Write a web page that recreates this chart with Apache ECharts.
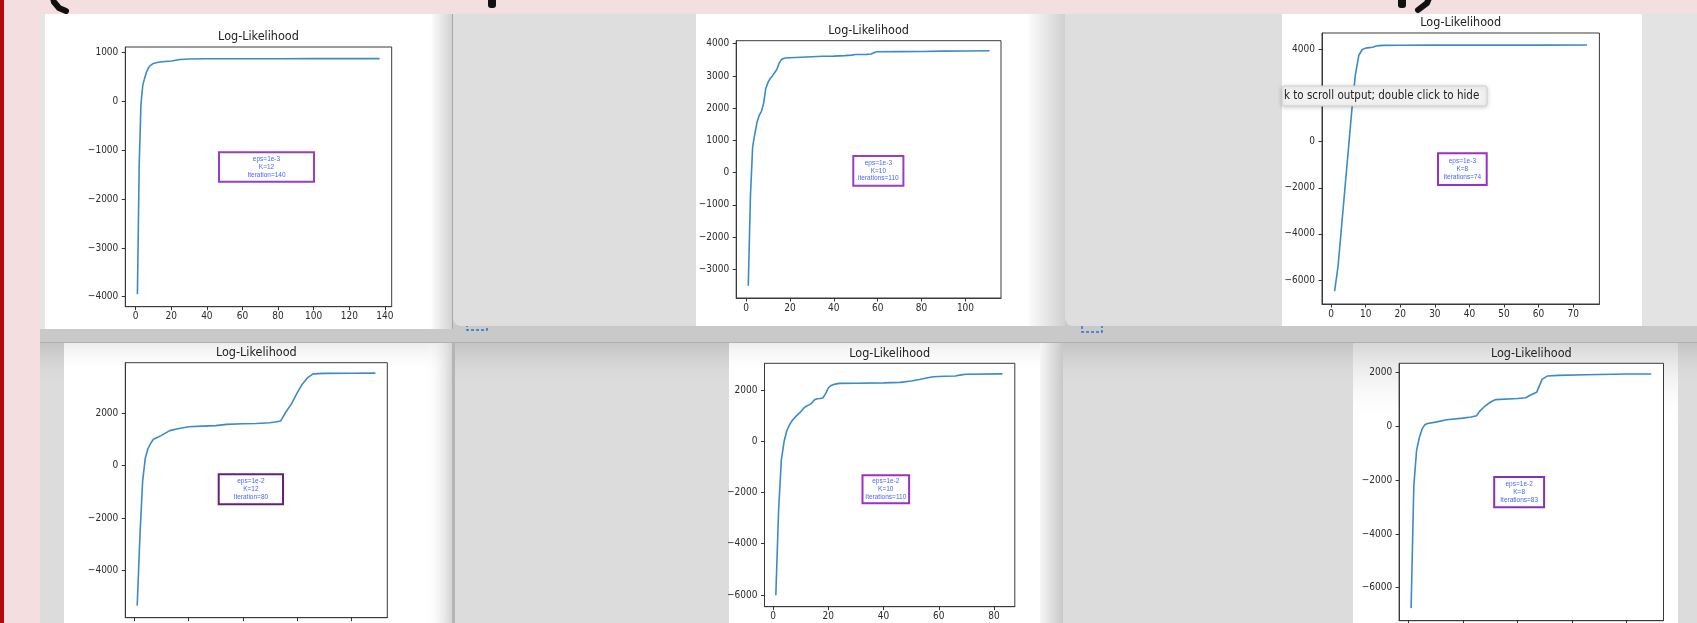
<!DOCTYPE html>
<html>
<head>
<meta charset="utf-8">
<script src="https://cdn.jsdelivr.net/npm/echarts@6/dist/echarts.min.js"></script>
<style>
html,body{margin:0;padding:0;background:#c9c9c9;}
#chart{width:1697px;height:623px;}
</style>
</head>
<body>
<div id="chart"></div>
<script>
// ---------- data ----------
const ITER1 = [1,2,3,4,5,6,7,8,9,10,12,15,20,25,30,40,60,80,100,120,137];
const LL1   = [-3950,-1300,-50,330,470,590,680,730,760,780,800,815,830,860,872,875,876,877,878,879,879];

const ITER2 = [1,2,3,4,5,6,7,8,9,10,11,12,13,14,15,16,17,18,20,25,30,35,40,45,48,50,55,57,59,60,70,80,90,100,111];
const LL2   = [-3510,-700,800,1200,1560,1780,1900,2150,2620,2800,2920,3000,3100,3200,3380,3500,3540,3555,3565,3580,3595,3610,3615,3630,3645,3665,3668,3680,3740,3750,3755,3760,3770,3775,3780];

const ITER3 = [1,2,3,4,5,6,7,8,9,10,11,12,13,14,15,20,30,40,50,60,74];
const LL3   = [-6480,-5400,-3700,-2000,-300,1400,2900,3750,4000,4060,4080,4100,4150,4170,4180,4185,4188,4190,4190,4192,4195];

const ITER4 = [1,2,3,4,5,6,7,8,10,13,16,20,25,30,34,40,45,50,52,54,56,58,60,62,64,66,70,80,89];
const LL4   = [-5330,-2700,-600,290,650,850,1000,1050,1150,1330,1400,1480,1500,1520,1570,1590,1600,1630,1660,1700,2050,2350,2750,3100,3350,3490,3510,3515,3520];

const ITER5 = [1,2,3,4,5,6,7,8,9,10,11,12,13,14,15,16,17,18,19,20,21,22,24,30,40,46,50,53,56,58,62,66,68,70,83];
const LL5   = [-6010,-2700,-730,0,420,650,820,940,1050,1150,1280,1370,1420,1490,1620,1660,1670,1690,1850,2080,2180,2220,2260,2265,2280,2300,2350,2410,2480,2520,2535,2550,2590,2615,2630];

const ITER6 = [1,2,3,4,5,6,7,10,14,20,23,25,26,28,30,32,40,43,45,47,49,51,55,65,80,89];
const LL6   = [-6760,-2200,-900,-420,-100,60,110,160,250,310,350,400,550,750,900,1000,1040,1070,1180,1270,1750,1880,1900,1925,1950,1950];

const XT1 = [0,20,40,60,80,100,120,140];
const YT1 = [-4000,-3000,-2000,-1000,0,1000];
const XT2 = [0,20,40,60,80,100];
const YT2 = [-3000,-2000,-1000,0,1000,2000,3000,4000];
const XT3 = [0,10,20,30,40,50,60,70];
const YT3 = [-6000,-4000,-2000,0,2000,4000];
const XT4 = [0,20,40,60,80];
const YT4 = [-4000,-2000,0,2000];
const XT5 = [0,20,40,60,80];
const YT5 = [-6000,-4000,-2000,0,2000];
const XT6 = [0,20,40,60,80];
const YT6 = [-6000,-4000,-2000,0,2000];

const TITLE = 'Log-Likelihood';
const NOTE1 = ['eps=1e-3','K=12','Iteration=140'];
const NOTE2 = ['eps=1e-3','K=10','iterations=110'];
const NOTE3 = ['eps=1e-3','K=8','Iterations=74'];
const NOTE4 = ['eps=1e-2','K=12','Iteration=80'];
const NOTE5 = ['eps=1e-2','K=10','Iterations=110'];
const NOTE6 = ['eps=1e-2','K=8','Iterations=83'];
const TOOLTIP_TEXT = 'k to scroll output; double click to hide';

// ---------- layout ----------
const FONT = "'DejaVu Sans Condensed','DejaVu Sans',sans-serif";
const panels = [
  {it:ITER1, ll:LL1, xt:XT1, yt:YT1, grid:[125.3,47,266.4,259.7], x:[-5.8,143.8], y:[-4204,1117], note:NOTE1, box:[219,152.3,95,29.4], boxColor:'#9b3cc6', xm:5},
  {it:ITER2, ll:LL2, xt:XT2, yt:YT2, grid:[736.2,40.7,264.8,257.3], x:[-4.5,116.2], y:[-3891,4093], note:NOTE2, box:[853.3,156,50.1,29.7], boxColor:'#9b3cc6', xm:5},
  {it:ITER3, ll:LL3, xt:XT3, yt:YT3, grid:[1322,33,277.4,271], x:[-2.65,77.6], y:[-7041,4716], note:NOTE3, box:[1438,153.3,48.7,31.7], boxColor:'#9b30c8', xm:5},
  {it:ITER4, ll:LL4, xt:XT4, yt:YT4, grid:[125.3,362.7,262,255], x:[-3.4,93.4], y:[-5790,3916], note:NOTE4, box:[218.7,474.3,64.3,30], boxColor:'#62207f', xm:7},
  {it:ITER5, ll:LL5, xt:XT5, yt:YT5, grid:[764.5,363.3,250.3,243.4], x:[-3.1,87.5], y:[-6457,3043], note:NOTE5, box:[862.5,475.3,46.6,28], boxColor:'#9b30c8', xm:5},
  {it:ITER6, ll:LL6, xt:XT6, yt:YT6, grid:[1399.1,363.3,264.4,257.4], x:[-3.4,93.5], y:[-7228,2350], note:NOTE6, box:[1494.2,477,49.9,30.3], boxColor:'#8a2fb8', xm:7}
];

function fmt(v){ return v < 0 ? '\u2212' + Math.abs(v) : String(v); }

const grids = [], xAxes = [], yAxes = [], series = [], graphics = [];

// ---------- background (screenshot frame) ----------
function rect(x,y,w,h,fill,z,extra){ return Object.assign({type:'rect', z:z||-20, silent:true, shape:{x:x,y:y,width:w,height:h}, style:{fill:fill}}, extra||{}); }
function hgrad(c1,c2){ return {type:'linear',x:0,y:0,x2:1,y2:0,colorStops:[{offset:0,color:c1},{offset:1,color:c2}]}; }
function vgrad(c1,c2){ return {type:'linear',x:0,y:0,x2:0,y2:1,colorStops:[{offset:0,color:c1},{offset:1,color:c2}]}; }

graphics.push(rect(0,0,1697,623,'#c9c9c9',-30));
// top row windows
graphics.push(rect(40,14,413,315,'#e6e6e6',-25));
graphics.push(rect(45,14,385,315,'#ffffff',-24));
graphics.push(rect(430,14,22,315,hgrad('#ffffff','#d2d2d2'),-24));
graphics.push(rect(452,14,1,315,'#a9a9a9',-24));
graphics.push({type:'rect', z:-25, silent:true, shape:{x:453,y:14,width:612,height:312,r:[0,0,0,8]}, style:{fill:'#dedede'}});
graphics.push(rect(696,14,330,312,'#ffffff',-24));
graphics.push(rect(1026,14,39,312,hgrad('#ffffff','#d0d0d0'),-24));
graphics.push({type:'rect', z:-25, silent:true, shape:{x:1065,y:14,width:632,height:312,r:[0,0,0,8]}, style:{fill:'#dedede'}});
graphics.push(rect(1282,14,360,312,'#ffffff',-24));
graphics.push(rect(1642,14,55,312,'#e3e3e3',-24));
// toolbar strip icons (faint)
graphics.push({type:'rect', z:-26, silent:true, shape:{x:467,y:318,width:20,height:12}, style:{fill:'none', stroke:'#2f6fd0', lineWidth:1.5, lineDash:[3,2]}});
graphics.push({type:'rect', z:-26, silent:true, shape:{x:1082,y:320,width:20,height:12}, style:{fill:'none', stroke:'#2f6fd0', lineWidth:1.5, lineDash:[3,2]}});
graphics.push(rect(40,342,1657,1,'#b0b0b0',-24));
// bottom row
graphics.push(rect(40,343,1657,280,'#dcdcdc',-25));
graphics.push(rect(40,343,1657,45,vgrad('#c4c4c4','rgba(220,220,220,0)'),-24));
graphics.push(rect(64,343,388,280,'#ffffff',-23));
graphics.push(rect(64,343,388,30,vgrad('#ececec','rgba(255,255,255,0)'),-22));
graphics.push(rect(425,343,27,280,hgrad('rgba(255,255,255,0)','#d4d4d4'),-22));
graphics.push(rect(452,343,3,280,'#b5b5b5',-22));
graphics.push(rect(729,343,311,280,'#ffffff',-23));
graphics.push(rect(729,343,311,30,vgrad('#ededed','rgba(255,255,255,0)'),-22));
graphics.push(rect(1040,343,23,280,hgrad('#f6f6f6','#c8c8c8'),-22));
graphics.push(rect(1353,343,325,280,'#ffffff',-23));
graphics.push(rect(1353,343,325,80,vgrad('#d6d6d6','rgba(255,255,255,0)'),-22));
// pink border and band
graphics.push(rect(0,0,1697,14,'#f3dfdf',-10));
graphics.push(rect(0,0,40,623,'#f3dfdf',-10));
graphics.push(rect(0,0,4,623,'#b4080c',-9));
// fragments of large heading text cut off at the top
graphics.push({type:'polyline', z:5, silent:true, shape:{points:[[52,-6],[54,2],[59,8],[66,11]]}, style:{stroke:'#111', lineWidth:6, fill:'none', lineCap:'round'}});
graphics.push({type:'rect', z:5, silent:true, shape:{x:488,y:-4,width:8,height:12,r:[0,0,3,3]}, style:{fill:'#111'}});
graphics.push({type:'rect', z:5, silent:true, shape:{x:1398,y:-4,width:8,height:12,r:[0,0,3,3]}, style:{fill:'#111'}});
graphics.push({type:'polyline', z:5, silent:true, shape:{points:[[1430,-4],[1427,3],[1418,10]]}, style:{stroke:'#111', lineWidth:6, fill:'none', lineCap:'round'}});

// ---------- charts ----------
panels.forEach((p, i) => {
  const [gl, gt, gw, gh] = p.grid;
  grids.push({left:gl, top:gt, width:gw, height:gh, show:true, backgroundColor:'#ffffff', borderColor:'#3a3a3a', borderWidth:1, z:0, containLabel:false, outerBoundsMode:'none'});
  const axisLine = {show:true, onZero:false, lineStyle:{color:'#3a3a3a', width:1}};
  xAxes.push({type:'value', gridIndex:i, min:p.x[0], max:p.x[1], axisLine:axisLine,
    axisTick:{show:true, inside:false, length:3.5, customValues:p.xt, lineStyle:{color:'#333'}},
    axisLabel:{customValues:p.xt, margin:p.xm, fontSize:10, color:'#2b2b2b', fontFamily:FONT, formatter:fmt, showMinLabel:true, showMaxLabel:true},
    splitLine:{show:false}});
  yAxes.push({type:'value', gridIndex:i, min:p.y[0], max:p.y[1], axisLine:axisLine,
    axisTick:{show:true, inside:false, length:3.5, customValues:p.yt, lineStyle:{color:'#333'}},
    axisLabel:{customValues:p.yt, margin:7, fontSize:10, color:'#2b2b2b', fontFamily:FONT, formatter:fmt},
    splitLine:{show:false}});
  series.push({type:'line', xAxisIndex:i, yAxisIndex:i, data:p.it.map((x,k)=>[x,p.ll[k]]),
    showSymbol:false, symbol:'none', lineStyle:{color:'#3b8bc6', width:1.6}, clip:true, z:3, silent:true});
  // title
  graphics.push({type:'text', z:6, silent:true, style:{text:TITLE, x:gl+gw/2, y:gt-10, align:'center', verticalAlign:'middle', font:"12.5px " + FONT, fill:'#222'}});
  // annotation box
  const [bx, by, bw, bh] = p.box;
  graphics.push({type:'rect', z:8, silent:true, shape:{x:bx,y:by,width:bw,height:bh}, style:{fill:'#ffffff', stroke:p.boxColor, lineWidth:2}});
  p.note.forEach((t, k) => {
    graphics.push({type:'text', z:9, silent:true, style:{text:t, x:bx+bw/2, y:by+bh/2+(k-1)*7.8, align:'center', verticalAlign:'middle', font:"6.5px 'Liberation Sans', sans-serif", fill:'#4a64ff'}});
  });
});

// output tooltip overlapping top-right chart
graphics.push({type:'rect', z:20, silent:true, shape:{x:1282,y:86,width:205,height:20,r:2}, style:{fill:'#f1f1f1', stroke:'#cfcfcf', lineWidth:1, shadowBlur:4, shadowColor:'rgba(0,0,0,0.18)', shadowOffsetY:1}});
graphics.push({type:'text', z:21, silent:true, style:{text:TOOLTIP_TEXT, x:1284, y:96.5, align:'left', verticalAlign:'middle', font:"11.5px " + FONT, fill:'#222'}});

const chart = echarts.init(document.getElementById('chart'), null, {renderer:'canvas'});
chart.setOption({
  animation:false,
  backgroundColor:'#c9c9c9',
  grid:grids, xAxis:xAxes, yAxis:yAxes, series:series,
  graphic:{elements:graphics}
});
</script>
</body>
</html>
